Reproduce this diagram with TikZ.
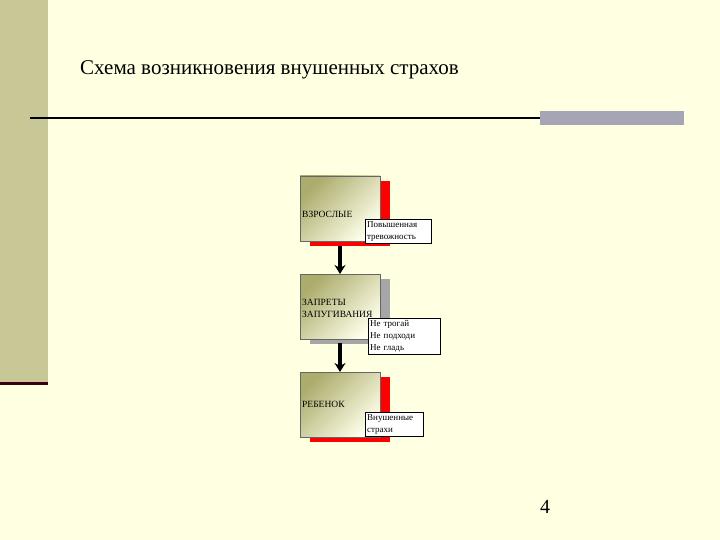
\documentclass[tikz,border=0pt]{standalone}
\usepackage{fontspec}
\setmainfont{Liberation Serif}
\usetikzlibrary{arrows.meta}
\definecolor{barcol}{RGB}{200,200,150}
\definecolor{graybar}{RGB}{165,165,180}
\definecolor{bgcol}{RGB}{255,255,226}
\begin{document}
\begin{tikzpicture}[x=1pt,y=-1pt,
  mainbox/.style={draw=black!60,line width=0.5pt,left color=black!45!olive!45!white,right color=yellow!8,shading angle=45},
  lbl/.style={draw=black,fill=white,inner sep=2pt,align=left,font=\fontsize{9}{12}\selectfont,anchor=north west},
  txt/.style={font=\fontsize{9.5}{12}\selectfont,align=left,anchor=west,inner sep=0pt},
  arr/.style={line width=4pt,-{Stealth[length=9pt,width=11pt]}}]
\fill[bgcol] (0,0) rectangle (720,540);
\useasboundingbox (0,0) rectangle (720,540);
\fill[barcol] (0,0) rectangle (48,382);
\fill[black!70!purple] (0,382) rectangle (48,385);
\draw[line width=1.8pt] (30,118) -- (540,118);
\fill[graybar] (540,111) rectangle (684,125);
\node[anchor=west,font=\fontsize{21}{24}\selectfont,inner sep=0pt] (title) at (80,70) {Схема возникновения внушенных страхов};
\node[font=\fontsize{20}{22}\selectfont] (pg) at (545,507) {4};
% box 1
\fill[red] (310,181) rectangle (390,246);
\shade[mainbox] (300,176) rectangle (380,241);
\coordinate (b1) at (340,246);
\node[txt] (t1) at (302,214) {ВЗРОСЛЫЕ};
\node[lbl,text width=62pt] (l1) at (365,219) {Повышенная\\тревожность};
% box 2
\fill[black!35] (310,279) rectangle (390,344);
\shade[mainbox] (300,274) rectangle (380,339);
\coordinate (b2t) at (340,274);
\coordinate (b2) at (340,343);
\node[txt] (t2) at (302,308) {ЗАПРЕТЫ\\ЗАПУГИВАНИЯ};
\node[lbl,text width=68pt] (l2) at (368,318) {Не трогай\\Не подходи\\Не гладь};
% box 3
\fill[red] (310,377) rectangle (390,442);
\shade[mainbox] (300,372) rectangle (380,437);
\coordinate (b3t) at (340,372);
\node[txt] (t3) at (302,404) {РЕБЕНОК};
\node[lbl,text width=54pt] (l3) at (365,412) {Внушенные\\страхи};
\draw[arr] (b1) -- (b2t);
\draw[arr] (b2) -- (b3t);
\end{tikzpicture}
\end{document}
